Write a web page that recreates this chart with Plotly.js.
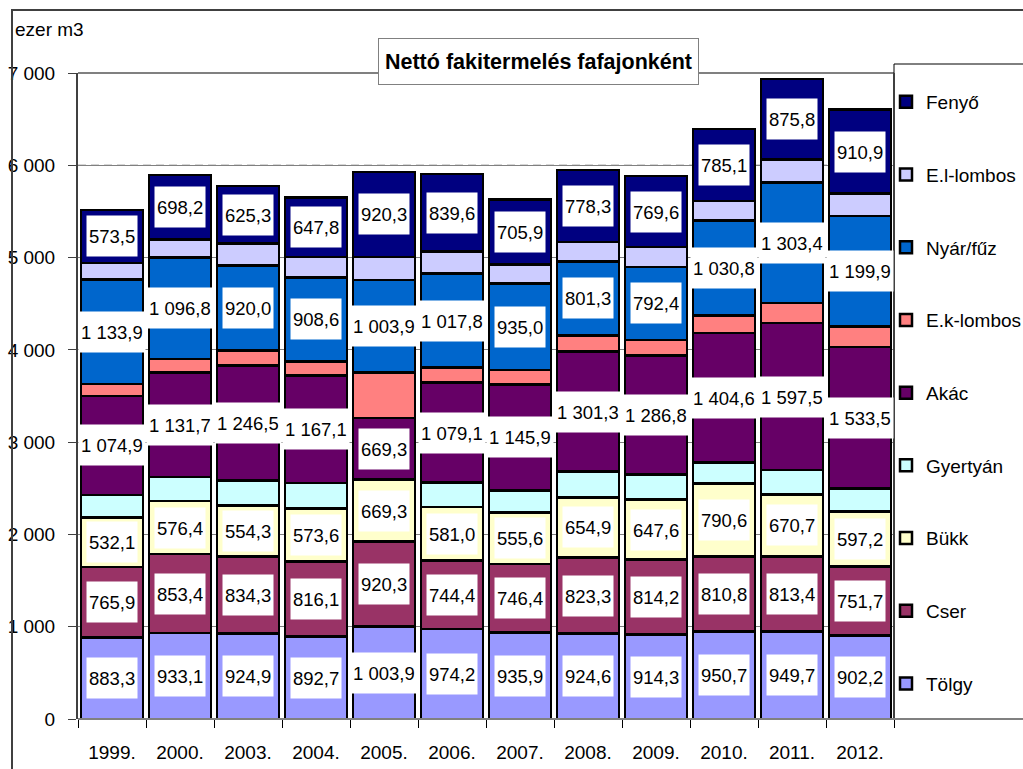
<!DOCTYPE html>
<html>
<head>
<meta charset="utf-8">
<script src="https://cdn.plot.ly/plotly-3.0.1.min.js"></script>
<style>html,body{margin:0;padding:0;background:#fff;}#chart{width:1023px;height:769px;}</style>
</head>
<body>
<div id="chart"></div>
<script>
const years = ['1999.','2000.','2003.','2004.','2005.','2006.','2007.','2008.','2009.','2010.','2011.','2012.'];
const tolgy    = [883.3, 933.1, 924.9, 892.7, 1003.9, 974.2, 935.9, 924.6, 914.3, 950.7, 949.7, 902.2];
const cser     = [765.9, 853.4, 834.3, 816.1, 920.3, 744.4, 746.4, 823.3, 814.2, 810.8, 813.4, 751.7];
const bukk     = [532.1, 576.4, 554.3, 573.6, 669.3, 581.0, 555.6, 654.9, 647.6, 790.6, 670.7, 597.2];
const gyertyan = [245, 258, 272, 275, 0, 265, 240, 278, 275, 228, 262, 246];
const akac     = [1074.9, 1131.7, 1246.5, 1167.1, 669.3, 1079.1, 1145.9, 1301.3, 1286.8, 1404.6, 1597.5, 1533.5];
const eklombos = [130, 150, 160, 152, 492, 165, 160, 175, 170, 185, 215, 220];
const nyar     = [1133.9, 1096.8, 920.0, 908.6, 1003.9, 1017.8, 935.0, 801.3, 792.4, 1030.8, 1303.4, 1199.9];
const ellombos = [178, 195, 238, 220, 250, 240, 205, 210, 212, 210, 250, 242];
const fenyo    = [573.5, 698.2, 625.3, 647.8, 920.3, 839.6, 705.9, 778.3, 769.6, 785.1, 875.8, 910.9];

const seriesNames = ['Tölgy','Cser','Bükk','Gyertyán','Akác','E.k-lombos','Nyár/fűz','E.l-lombos','Fenyő'];
const seriesData = [tolgy, cser, bukk, gyertyan, akac, eklombos, nyar, ellombos, fenyo];
const seriesColors = ['#9999FF','#993366','#FFFFCC','#CCFFFF','#660066','#FF8080','#0066CC','#CCCCFF','#000080'];
const labelled = [true, true, true, false, true, false, true, false, true];

const FONT = '"Liberation Sans", Arial, sans-serif';

function fmt(v) {
  const s = v.toFixed(1).split('.');
  const int = s[0].replace(/\B(?=(\d{3})+(?!\d))/g, ' ');
  return int + ',' + s[1];
}

const traces = seriesNames.map((n, i) => ({
  type: 'bar',
  name: n,
  x: years,
  y: seriesData[i],
  legendgroup: 'g' + i,
  legendrank: seriesNames.length - i,
  marker: {color: seriesColors[i], line: {color: '#000000', width: 2.5}},
  hoverinfo: 'x+y+name'
}));

const annotations = [];
const cum = years.map(() => 0);
seriesData.forEach((arr, i) => {
  arr.forEach((v, j) => {
    if (labelled[i]) {
      annotations.push({
        x: j, y: cum[j] + v / 2, xref: 'x', yref: 'y',
        text: fmt(v), showarrow: false,
        font: {family: FONT, size: 18.5, color: '#000'},
        bgcolor: '#FFFFFF', borderpad: 2, height: 36, valign: 'middle'
      });
    }
    cum[j] += v;
  });
});

// plot area: x 78..894, y 73..719
const PW = 816, PH = 646;
const px = x => (x - 78) / PW;
const py = y => (719 - y) / PH;

annotations.push({
  xref: 'paper', yref: 'paper', x: px(538.5), y: py(61.5),
  text: '<b>Nettó fakitermelés fafajonként</b>', showarrow: false,
  font: {family: FONT, size: 21.5, color: '#000'},
  bgcolor: '#FFFFFF', bordercolor: '#808080', borderwidth: 1,
  width: 313, height: 39, borderpad: 3, xanchor: 'center', yanchor: 'middle'
});
annotations.push({
  xref: 'paper', yref: 'paper', x: px(13), y: py(29),
  text: 'ezer m3', showarrow: false, xanchor: 'left', yanchor: 'middle',
  font: {family: FONT, size: 19, color: '#000'}
});

const shapes = [
  {type: 'rect', xref: 'paper', yref: 'paper', x0: px(12), x1: px(1040), y0: py(790), y1: py(10),
   line: {color: '#404040', width: 2}, fillcolor: 'rgba(0,0,0,0)', layer: 'above'},
  {type: 'line', xref: 'paper', yref: 'y', x0: 0, x1: 1, y0: 6000, y1: 6000,
   line: {color: '#FFFFFF', width: 2}, layer: 'below'},
  {type: 'line', xref: 'paper', yref: 'y', x0: 0, x1: 1, y0: 6000, y1: 6000,
   line: {color: '#404040', width: 1, dash: '8px,5px'}, layer: 'below'},
  {type: 'line', xref: 'paper', yref: 'paper', x0: 0, x1: 1, y0: 1, y1: 1,
   line: {color: '#808080', width: 2}, layer: 'below'},
  {type: 'line', xref: 'paper', yref: 'paper', x0: 1, x1: 1, y0: 0, y1: 1,
   line: {color: '#808080', width: 2}, layer: 'above'},
  {type: 'rect', xref: 'paper', yref: 'paper', x0: px(894), x1: px(1040), y0: 0, y1: py(64),
   line: {color: '#000000', width: 1}, fillcolor: 'rgba(0,0,0,0)', layer: 'above'},
  {type: 'line', xref: 'paper', yref: 'paper', x0: 0, x1: px(1040), y0: 0, y1: 0,
   line: {color: '#808080', width: 2}, layer: 'above'}
];

const layout = {
  width: 1023, height: 769,
  margin: {l: 78, r: 129, t: 73, b: 50, pad: 0, autoexpand: false},
  paper_bgcolor: '#FFFFFF', plot_bgcolor: '#FFFFFF',
  separators: ', ',
  barmode: 'stack', bargap: 0.09,
  font: {family: FONT, size: 19, color: '#000'},
  showlegend: true,
  legend: {
    x: px(886), y: py(83), xanchor: 'left', yanchor: 'top',
    traceorder: 'grouped', tracegroupgap: 45,
    bgcolor: 'rgba(0,0,0,0)', borderwidth: 0,
    font: {family: FONT, size: 19, color: '#000'}
  },
  xaxis: {
    type: 'category', tickson: 'boundaries', ticks: 'outside', ticklen: 8, tickwidth: 1,
    tickcolor: '#000', showline: false, showgrid: false, ticklabelstandoff: 20,
    tickfont: {family: FONT, size: 19, color: '#000'}, fixedrange: true
  },
  yaxis: {
    range: [0, 7000], dtick: 1000, tick0: 0, tickformat: ',d',
    ticks: 'outside', ticklen: 8, tickwidth: 1, tickcolor: '#404040',
    showline: true, linecolor: '#404040', linewidth: 2,
    showgrid: true, gridcolor: '#808080', gridwidth: 1, zeroline: false,
    ticklabelstandoff: 9,
    tickfont: {family: FONT, size: 19, color: '#000'}, fixedrange: true
  },
  annotations: annotations,
  shapes: shapes
};

Plotly.newPlot('chart', traces, layout, {displayModeBar: false, staticPlot: true});
</script>
</body>
</html>
